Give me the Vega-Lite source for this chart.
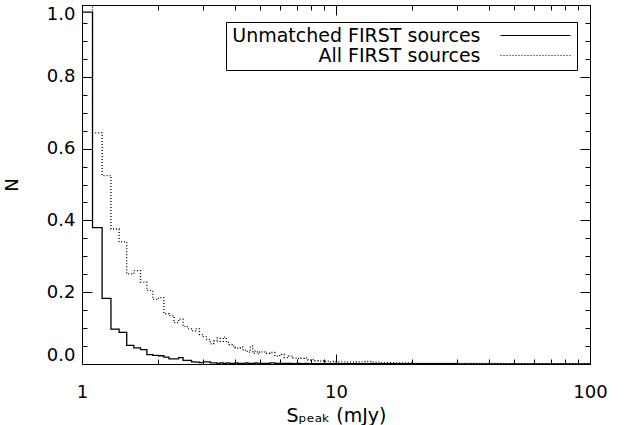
{
  "$schema": "https://vega.github.io/schema/vega-lite/v6.json",
  "width": 508,
  "height": 359,
  "autosize": {"type": "none"},
  "padding": {"left": 82, "top": 5, "right": 43, "bottom": 61},
  "background": "white",
  "config": {
    "view": {"stroke": null},
    "font": "DejaVu Sans",
    "axis": {
      "grid": false,
      "domainColor": "black",
      "tickColor": "black",
      "labelColor": "black",
      "titleColor": "black",
      "labelFont": "DejaVu Sans",
      "titleFont": "DejaVu Sans",
      "labelFontSize": 18,
      "titleFontSize": 18,
      "titleFontWeight": "normal",
      "domainWidth": 1,
      "tickWidth": 1
    }
  },
  "data": {
    "values": [
      {"s": 1.0, "u": 0.98, "a": 1.0},
      {"s": 1.1, "u": 0.38, "a": 0.644},
      {"s": 1.2, "u": 0.183, "a": 0.525},
      {"s": 1.3, "u": 0.097, "a": 0.376},
      {"s": 1.4, "u": 0.088, "a": 0.34},
      {"s": 1.5, "u": 0.052, "a": 0.251},
      {"s": 1.6, "u": 0.045, "a": 0.26},
      {"s": 1.7, "u": 0.04, "a": 0.228},
      {"s": 1.8, "u": 0.026, "a": 0.205},
      {"s": 1.9, "u": 0.024, "a": 0.18},
      {"s": 2.0, "u": 0.023, "a": 0.185},
      {"s": 2.1, "u": 0.019, "a": 0.14},
      {"s": 2.2, "u": 0.014, "a": 0.135},
      {"s": 2.3, "u": 0.014, "a": 0.115},
      {"s": 2.4, "u": 0.018, "a": 0.125},
      {"s": 2.5, "u": 0.01, "a": 0.105},
      {"s": 2.6, "u": 0.01, "a": 0.098},
      {"s": 2.7, "u": 0.006, "a": 0.092},
      {"s": 2.8, "u": 0.005, "a": 0.098},
      {"s": 2.9, "u": 0.004, "a": 0.082},
      {"s": 3.0, "u": 0.006, "a": 0.076},
      {"s": 3.1, "u": 0.006, "a": 0.068},
      {"s": 3.2, "u": 0.003, "a": 0.056},
      {"s": 3.3, "u": 0.003, "a": 0.064},
      {"s": 3.4, "u": 0.002, "a": 0.072},
      {"s": 3.5, "u": 0.003, "a": 0.063},
      {"s": 3.6, "u": 0.002, "a": 0.075},
      {"s": 3.7, "u": 0.003, "a": 0.06},
      {"s": 3.8, "u": 0.002, "a": 0.054},
      {"s": 3.9, "u": 0.002, "a": 0.05},
      {"s": 4.0, "u": 0.003, "a": 0.046},
      {"s": 4.1, "u": 0.002, "a": 0.044},
      {"s": 4.2, "u": 0.002, "a": 0.047},
      {"s": 4.3, "u": 0.002, "a": 0.04},
      {"s": 4.4, "u": 0.003, "a": 0.035},
      {"s": 4.5, "u": 0.002, "a": 0.033},
      {"s": 4.6, "u": 0.002, "a": 0.05},
      {"s": 4.7, "u": 0.002, "a": 0.03},
      {"s": 4.8, "u": 0.003, "a": 0.036},
      {"s": 4.9, "u": 0.002, "a": 0.028},
      {"s": 5.0, "u": 0.002, "a": 0.034},
      {"s": 5.25, "u": 0.002, "a": 0.03},
      {"s": 5.5, "u": 0.003, "a": 0.032},
      {"s": 5.75, "u": 0.002, "a": 0.022},
      {"s": 6.0, "u": 0.002, "a": 0.027},
      {"s": 6.25, "u": 0.002, "a": 0.018},
      {"s": 6.5, "u": 0.002, "a": 0.022},
      {"s": 6.75, "u": 0.001, "a": 0.017},
      {"s": 7.0, "u": 0.002, "a": 0.015},
      {"s": 7.25, "u": 0.001, "a": 0.016},
      {"s": 7.5, "u": 0.002, "a": 0.017},
      {"s": 7.75, "u": 0.001, "a": 0.011},
      {"s": 8.0, "u": 0.001, "a": 0.012},
      {"s": 8.25, "u": 0.001, "a": 0.009},
      {"s": 8.5, "u": 0.001, "a": 0.008},
      {"s": 8.75, "u": 0.001, "a": 0.009},
      {"s": 9.0, "u": 0.001, "a": 0.007},
      {"s": 9.25, "u": 0.001, "a": 0.008},
      {"s": 9.5, "u": 0.001, "a": 0.006},
      {"s": 9.75, "u": 0.001, "a": 0.007},
      {"s": 10, "u": 0.001, "a": 0.006},
      {"s": 11, "u": 0.001, "a": 0.005},
      {"s": 12, "u": 0.001, "a": 0.006},
      {"s": 13, "u": 0.001, "a": 0.007},
      {"s": 14, "u": 0.001, "a": 0.005},
      {"s": 15, "u": 0.001, "a": 0.004},
      {"s": 16, "u": 0.001, "a": 0.004},
      {"s": 17, "u": 0.001, "a": 0.003},
      {"s": 18, "u": 0.001, "a": 0.003},
      {"s": 19, "u": 0.001, "a": 0.003},
      {"s": 20, "u": 0.001, "a": 0.002},
      {"s": 25, "u": 0.001, "a": 0.002},
      {"s": 30, "u": 0.0005, "a": 0.002},
      {"s": 35, "u": 0.0005, "a": 0.0015},
      {"s": 40, "u": 0.0005, "a": 0.0015},
      {"s": 45, "u": 0.0005, "a": 0.001},
      {"s": 50, "u": 0.0005, "a": 0.001},
      {"s": 55, "u": 0.0005, "a": 0.001},
      {"s": 60, "u": 0.0005, "a": 0.001},
      {"s": 65, "u": 0.0005, "a": 0.001},
      {"s": 70, "u": 0.0005, "a": 0.001},
      {"s": 75, "u": 0.0005, "a": 0.0008},
      {"s": 80, "u": 0.0005, "a": 0.0008},
      {"s": 85, "u": 0.0005, "a": 0.0008},
      {"s": 90, "u": 0.0005, "a": 0.0008},
      {"s": 95, "u": 0.0005, "a": 0.0008},
      {"s": 100, "u": 0.0005, "a": 0.0008}
    ]
  },
  "transform": [{"fold": ["u", "a"], "as": ["series", "n"]}],
  "layer": [
    {
      "mark": {"type": "line", "interpolate": "step-after", "color": "black", "strokeWidth": 1.3, "clip": true},
      "encoding": {
        "x": {
          "field": "s", "type": "quantitative",
          "scale": {"type": "log", "domain": [1, 100], "nice": false},
          "axis": {
            "orient": "bottom",
            "values": [1, 2, 3, 4, 5, 6, 7, 8, 9, 10, 20, 30, 40, 50, 60, 70, 80, 90, 100],
            "format": "d",
            "labelExpr": "indexof([1,10,100], datum.value) >= 0 ? datum.label : ''",
            "tickSize": {"condition": {"test": "indexof([1,10,100], datum.value) >= 0", "value": -10}, "value": -5},
            "labelPadding": 29,
            "labelFlush": false,
            "labelOverlap": false,
            "title": "Sₚₑₐₖ  (mJy)",
            "titleFontSize": 19,
            "titlePadding": 0
          }
        },
        "y": {
          "field": "n", "type": "quantitative",
          "scale": {"domain": [0, 1], "nice": false, "zero": true},
          "axis": {
            "orient": "left",
            "values": [0, 0.05, 0.1, 0.15, 0.2, 0.25, 0.3, 0.35, 0.4, 0.45, 0.5, 0.55, 0.6, 0.65, 0.7, 0.75, 0.8, 0.85, 0.9, 0.95, 1.0],
            "format": ".1f",
            "labelExpr": "abs(datum.value*5 - round(datum.value*5)) < 0.001 ? datum.label : ''",
            "tickSize": {"condition": {"test": "abs(datum.value*5 - round(datum.value*5)) < 0.001", "value": -10}, "value": -5},
            "labelPadding": 17,
            "labelFlush": true,
            "labelOverlap": false,
            "title": "N",
            "titlePadding": 25
          }
        },
        "strokeDash": {
          "field": "series", "type": "nominal",
          "scale": {"domain": ["u", "a"], "range": [[1, 0], [1, 2]]},
          "legend": {
            "orient": "none",
            "legendX": 144,
            "legendY": 17,
            "title": null,
            "symbolType": "M-10,0H10",
            "symbolSize": 49,
            "symbolOffset": 296,
            "symbolStrokeWidth": 1.2,
            "symbolStrokeColor": "black",
            "labelAlign": "right",
            "labelOffset": -64.5,
            "labelFontSize": 19,
            "labelFont": "DejaVu Sans",
            "labelColor": "black",
            "labelLimit": 400,
            "strokeColor": "black",
            "padding": 4,
            "rowPadding": -3,
            "labelExpr": "datum.value == 'u' ? 'Unmatched FIRST sources' : 'All FIRST sources'"
          }
        }
      }
    },
    {
      "mark": {"type": "line", "interpolate": "step-after", "strokeOpacity": 0},
      "encoding": {
        "x": {
          "field": "s", "type": "quantitative",
          "scale": {"type": "log", "domain": [1, 100], "nice": false},
          "axis": {
            "orient": "top",
            "values": [1, 2, 3, 4, 5, 6, 7, 8, 9, 10, 20, 30, 40, 50, 60, 70, 80, 90, 100],
            "labels": false,
            "tickSize": {"condition": {"test": "indexof([1,10,100], datum.value) >= 0", "value": -10}, "value": -5},
            "title": null
          }
        },
        "y": {
          "field": "n", "type": "quantitative",
          "scale": {"domain": [0, 1], "nice": false, "zero": true},
          "axis": {
            "orient": "right",
            "values": [0, 0.05, 0.1, 0.15, 0.2, 0.25, 0.3, 0.35, 0.4, 0.45, 0.5, 0.55, 0.6, 0.65, 0.7, 0.75, 0.8, 0.85, 0.9, 0.95, 1.0],
            "labels": false,
            "tickSize": {"condition": {"test": "abs(datum.value*5 - round(datum.value*5)) < 0.001", "value": -10}, "value": -5},
            "title": null
          }
        },
        "detail": {"field": "series", "type": "nominal"}
      }
    }
  ],
  "resolve": {"axis": {"x": "independent", "y": "independent"}}
}
